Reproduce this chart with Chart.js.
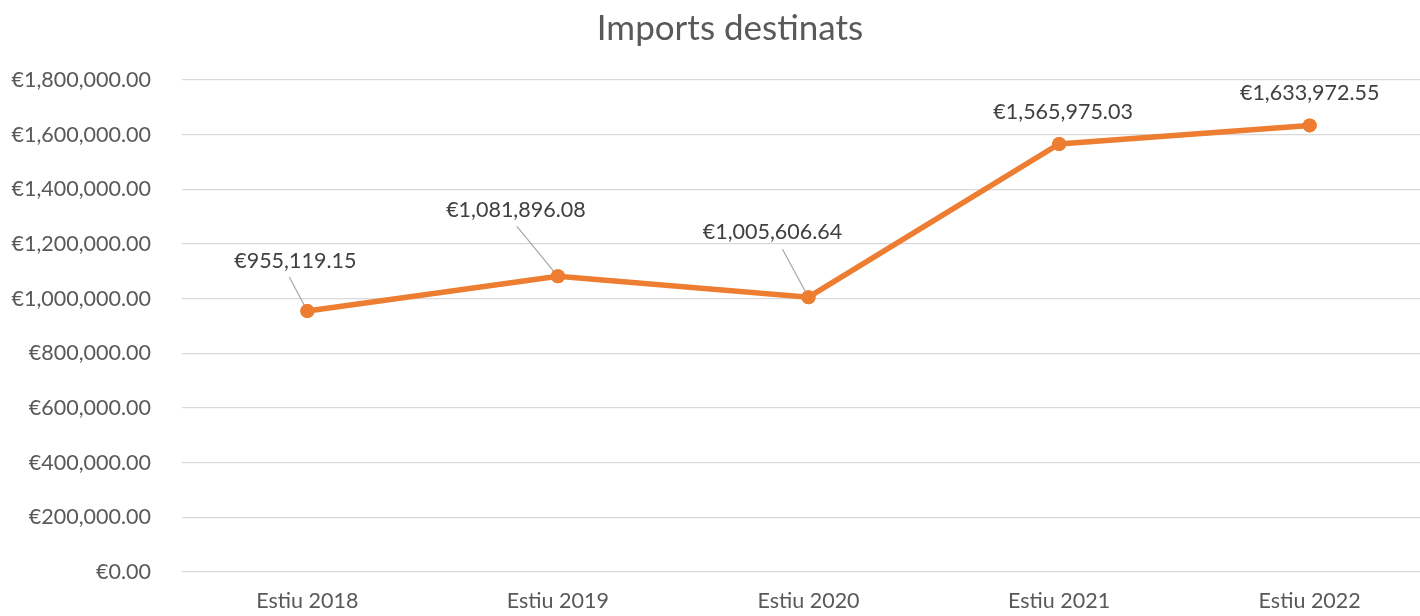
<!DOCTYPE html>
<html>
<head>
<meta charset="utf-8">
<script src="https://cdn.jsdelivr.net/npm/chart.js@4/dist/chart.umd.min.js"></script>
<style>
  html, body { margin: 0; padding: 0; background: #fff; overflow: hidden; width: 1420px; height: 616px; }
  #wrap { width: 1420px; height: 616px; overflow: hidden; position: relative; }
  canvas { position: absolute; left: 0; top: 0; display: block; }
</style>
</head>
<body>
<div id="wrap"><canvas id="c" width="1460" height="616" style="width:1460px;height:616px"></canvas></div>
<script>
const categories = ['Estiu 2018', 'Estiu 2019', 'Estiu 2020', 'Estiu 2021', 'Estiu 2022'];
const imports = [955119.15, 1081896.08, 1005606.64, 1565975.03, 1633972.55];
const yTicks = [0, 200000, 400000, 600000, 800000, 1000000, 1200000, 1400000, 1600000, 1800000];
const titleText = 'Imports destinats';

const FONT = 'Lato, "Open Sans", sans-serif';
const fmt = v => '€' + v.toLocaleString('en-US', { minimumFractionDigits: 2, maximumFractionDigits: 2 });

// label placement (text center offset from point, leader start offset from text center)
const labelStyle = [
  { dx: -12, dy: -50, leader: [-6, 16] },
  { dx: -42, dy: -66, leader: [1, 16] },
  { dx: -36, dy: -65, leader: [10, 17] },
  { dx: 4, dy: -32, leader: null },
  { dx: 0, dy: -32, leader: null }
];

const labelPlugin = {
  id: 'pointLabels',
  afterDatasetsDraw(chart) {
    const ctx = chart.ctx;
    const meta = chart.getDatasetMeta(0);
    ctx.save();
    meta.data.forEach((pt, i) => {
      const s = labelStyle[i];
      const tx = pt.x + s.dx, ty = pt.y + s.dy;
      if (s.leader) {
        ctx.strokeStyle = '#a6a6a6';
        ctx.lineWidth = 1.2;
        ctx.beginPath();
        ctx.moveTo(tx + s.leader[0], ty + s.leader[1]);
        ctx.lineTo(pt.x, pt.y);
        ctx.stroke();
      }
      ctx.fillStyle = '#404040';
      ctx.font = '21.5px ' + FONT;
      ctx.textAlign = 'center';
      ctx.textBaseline = 'middle';
      ctx.fillText(fmt(chart.data.datasets[0].data[i]), tx, ty);
    });
    meta.data.forEach(pt => {
      ctx.fillStyle = '#ED7D31';
      ctx.beginPath();
      ctx.arc(pt.x, pt.y, 7, 0, Math.PI * 2);
      ctx.fill();
    });
    ctx.restore();
  }
};

const titlePlugin = {
  id: 'customTitle',
  afterDraw(chart) {
    const ctx = chart.ctx;
    ctx.save();
    ctx.fillStyle = '#595959';
    ctx.font = '35px ' + FONT;
    ctx.textAlign = 'center';
    ctx.textBaseline = 'middle';
    ctx.fillText(titleText, 730, 29);
    ctx.restore();
  }
};

new Chart(document.getElementById('c'), {
  type: 'line',
  data: {
    labels: categories,
    datasets: [{
      data: imports,
      borderColor: '#ED7D31',
      backgroundColor: '#ED7D31',
      borderWidth: 5.5,
      pointRadius: 7,
      pointHoverRadius: 7,
      pointBackgroundColor: '#ED7D31',
      pointBorderWidth: 0,
      tension: 0
    }]
  },
  options: {
    responsive: false,
    maintainAspectRatio: false,
    animation: false,
    devicePixelRatio: 1,
    layout: { padding: { top: 80, right: 25, left: 0, bottom: 0 } },
    plugins: { legend: { display: false }, title: { display: false }, tooltip: { enabled: false } },
    scales: {
      x: {
        offset: true,
        grid: { display: false, drawTicks: false },
        border: { display: false },
        ticks: { color: '#595959', font: { family: FONT, size: 21.5 }, padding: 16, maxRotation: 0 },
        afterFit: s => { s.height = 42; }
      },
      y: {
        min: 0,
        max: 1800000,
        afterBuildTicks: s => { s.ticks = yTicks.map(v => ({ value: v })); },
        grid: { color: '#d9d9d9', lineWidth: 1.3, drawTicks: false },
        border: { display: false },
        ticks: { color: '#595959', font: { family: FONT, size: 21.5 }, padding: 31, callback: v => fmt(v) },
        afterFit: s => { s.width = 182; }
      }
    }
  },
  plugins: [labelPlugin, titlePlugin]
});
</script>
</body>
</html>
